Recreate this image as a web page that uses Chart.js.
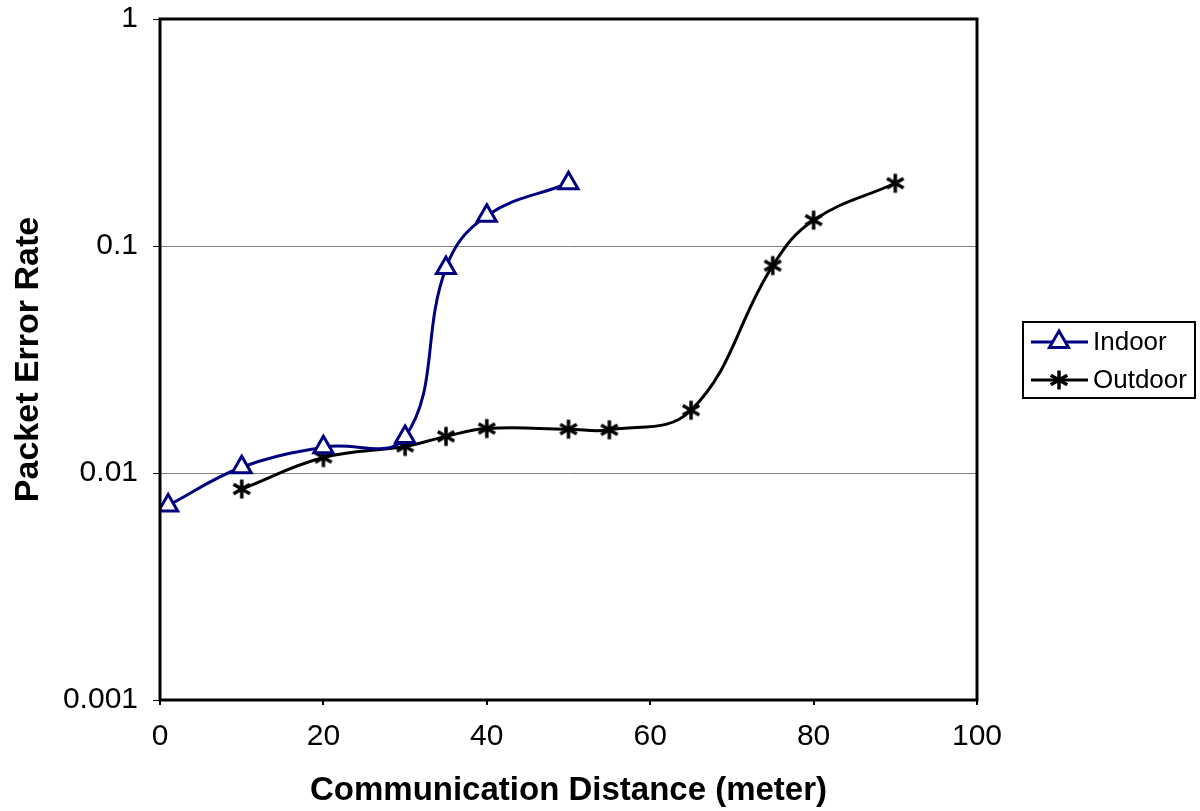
<!DOCTYPE html>
<html>
<head>
<meta charset="utf-8">
<script src="https://cdn.jsdelivr.net/npm/chart.js@4/dist/chart.umd.min.js"></script>
<style>
  body { margin: 0; background: #fff; }
  #wrap { width: 1200px; height: 811px; position: relative; }
</style>
</head>
<body>
<div id="wrap"><canvas id="graph1"></canvas></div>
<script>
// values
var indoorX = [1, 10, 20, 30, 35, 40, 50];
var indoorY = [0.0072, 0.0106, 0.0130, 0.0144, 0.080, 0.136, 0.189];
var outdoorX = [10, 20, 30, 35, 40, 50, 55, 65, 75, 80, 90];
var outdoorY = [0.0085, 0.0117, 0.0131, 0.0145, 0.0157, 0.0156, 0.0155, 0.0189, 0.082, 0.130, 0.189];
var xTicks = [0, 20, 40, 60, 80, 100];
var yTicks = [0.001, 0.01, 0.1, 1];

function toPoints(xs, ys) {
  let pts = [];
  for (let i = 0; i < xs.length; i++) {
    pts.push({x: xs[i], y: ys[i]});
  }
  return pts;
}

// asterisk marker like the excel "star"
function makeStar(size, color) {
  var c = document.createElement('canvas');
  c.width = size; c.height = size;
  var g = c.getContext('2d');
  var r = size / 2 - 1.5;
  g.strokeStyle = color;
  g.lineWidth = 3.5;
  g.lineCap = 'butt';
  [90, 30, 150].forEach(function (a) {
    var rad = a * Math.PI / 180;
    g.beginPath();
    g.moveTo(size / 2 - Math.cos(rad) * r, size / 2 - Math.sin(rad) * r);
    g.lineTo(size / 2 + Math.cos(rad) * r, size / 2 + Math.sin(rad) * r);
    g.stroke();
  });
  return c;
}
var starImg = makeStar(22, '#000');

var boxPlugin = {
  id: 'boxPlugin',
  afterDraw: function (chart) {
    var ctx = chart.ctx;
    var a = chart.chartArea;
    ctx.save();
    ctx.strokeStyle = '#000';
    ctx.lineWidth = 3;
    ctx.strokeRect(a.left, a.top, a.right - a.left, a.bottom - a.top);

    // legend box
    ctx.lineWidth = 2;
    ctx.strokeRect(1023, 322, 172, 76);
    var rows = [342, 380];
    chart.data.datasets.forEach(function (ds, i) {
      var y = rows[i];
      ctx.strokeStyle = ds.borderColor;
      ctx.lineWidth = ds.borderWidth;
      ctx.beginPath();
      ctx.moveTo(1031, y);
      ctx.lineTo(1088, y);
      ctx.stroke();
      ctx.fillStyle = ds.pointBackgroundColor;
      ctx.strokeStyle = ds.pointBorderColor;
      ctx.lineWidth = ds.pointBorderWidth;
      Chart.helpers.drawPoint(ctx, {pointStyle: ds.pointStyle, radius: ds.pointRadius, rotation: 0, borderWidth: ds.pointBorderWidth}, 1059, y);
      ctx.fillStyle = '#000';
      ctx.font = '26px "Liberation Sans", Arial, sans-serif';
      ctx.textAlign = 'left';
      ctx.textBaseline = 'middle';
      ctx.fillText(ds.label, 1093, y + 1);
    });
    ctx.restore();
  }
};

var ctx = document.getElementById('graph1').getContext('2d');

var data = {
  datasets: [{
    label: 'Indoor',
    data: toPoints(indoorX, indoorY),
    borderColor: '#000080',
    borderWidth: 3,
    pointStyle: 'triangle',
    pointRadius: 11,
    pointBorderWidth: 3,
    pointBorderColor: '#000080',
    pointBackgroundColor: '#fff',
    tension: 0.4,
    fill: false
  }, {
    label: 'Outdoor',
    data: toPoints(outdoorX, outdoorY),
    borderColor: '#000',
    borderWidth: 3,
    pointStyle: starImg,
    pointRadius: 10,
    pointBorderWidth: 0,
    pointBorderColor: '#000',
    pointBackgroundColor: '#000',
    tension: 0.4,
    fill: false
  }]
};

var graph1 = new Chart(ctx, {
  type: 'line',
  data: data,
  plugins: [boxPlugin],
  options: {
    maintainAspectRatio: false,
    responsive: true,
    animation: false,
    layout: { padding: { left: 0, top: 19, right: 223, bottom: 0 } },
    plugins: {
      legend: { display: false },
      tooltip: { enabled: false }
    },
    scales: {
      x: {
        type: 'linear',
        min: 0,
        max: 100,
        afterFit: function (s) { s.height = 111; s.paddingLeft = 0; s.paddingRight = 0; },
        afterBuildTicks: function (s) { s.ticks = xTicks.map(function (v) { return {value: v}; }); },
        ticks: {
          color: '#000',
          padding: 14,
          font: { family: '"Liberation Sans", Arial, sans-serif', size: 30 }
        },
        grid: { drawOnChartArea: false, tickColor: '#000', tickLength: 5, lineWidth: 2 },
        border: { display: false },
        title: {
          display: true,
          text: 'Communication Distance (meter)',
          color: '#000',
          padding: { top: 0, bottom: 0 },
          font: { family: '"Liberation Sans", Arial, sans-serif', size: 33, weight: 'bold' }
        }
      },
      y: {
        type: 'logarithmic',
        min: 0.001,
        max: 1,
        afterFit: function (s) { s.width = 160; s.paddingTop = 0; s.paddingBottom = 0; },
        afterBuildTicks: function (s) { s.ticks = yTicks.map(function (v) { return {value: v}; }); },
        ticks: {
          color: '#000',
          padding: 15,
          font: { family: '"Liberation Sans", Arial, sans-serif', size: 30 },
          callback: function (v) { return String(v); }
        },
        grid: { color: '#808080', tickColor: '#000', tickLength: 7, lineWidth: 1 },
        border: { display: false },
        title: {
          display: true,
          text: 'Packet Error Rate',
          color: '#000',
          padding: { top: 8, bottom: 0 },
          font: { family: '"Liberation Sans", Arial, sans-serif', size: 34, weight: 'bold' }
        }
      }
    }
  }
});
</script>
</body>
</html>
